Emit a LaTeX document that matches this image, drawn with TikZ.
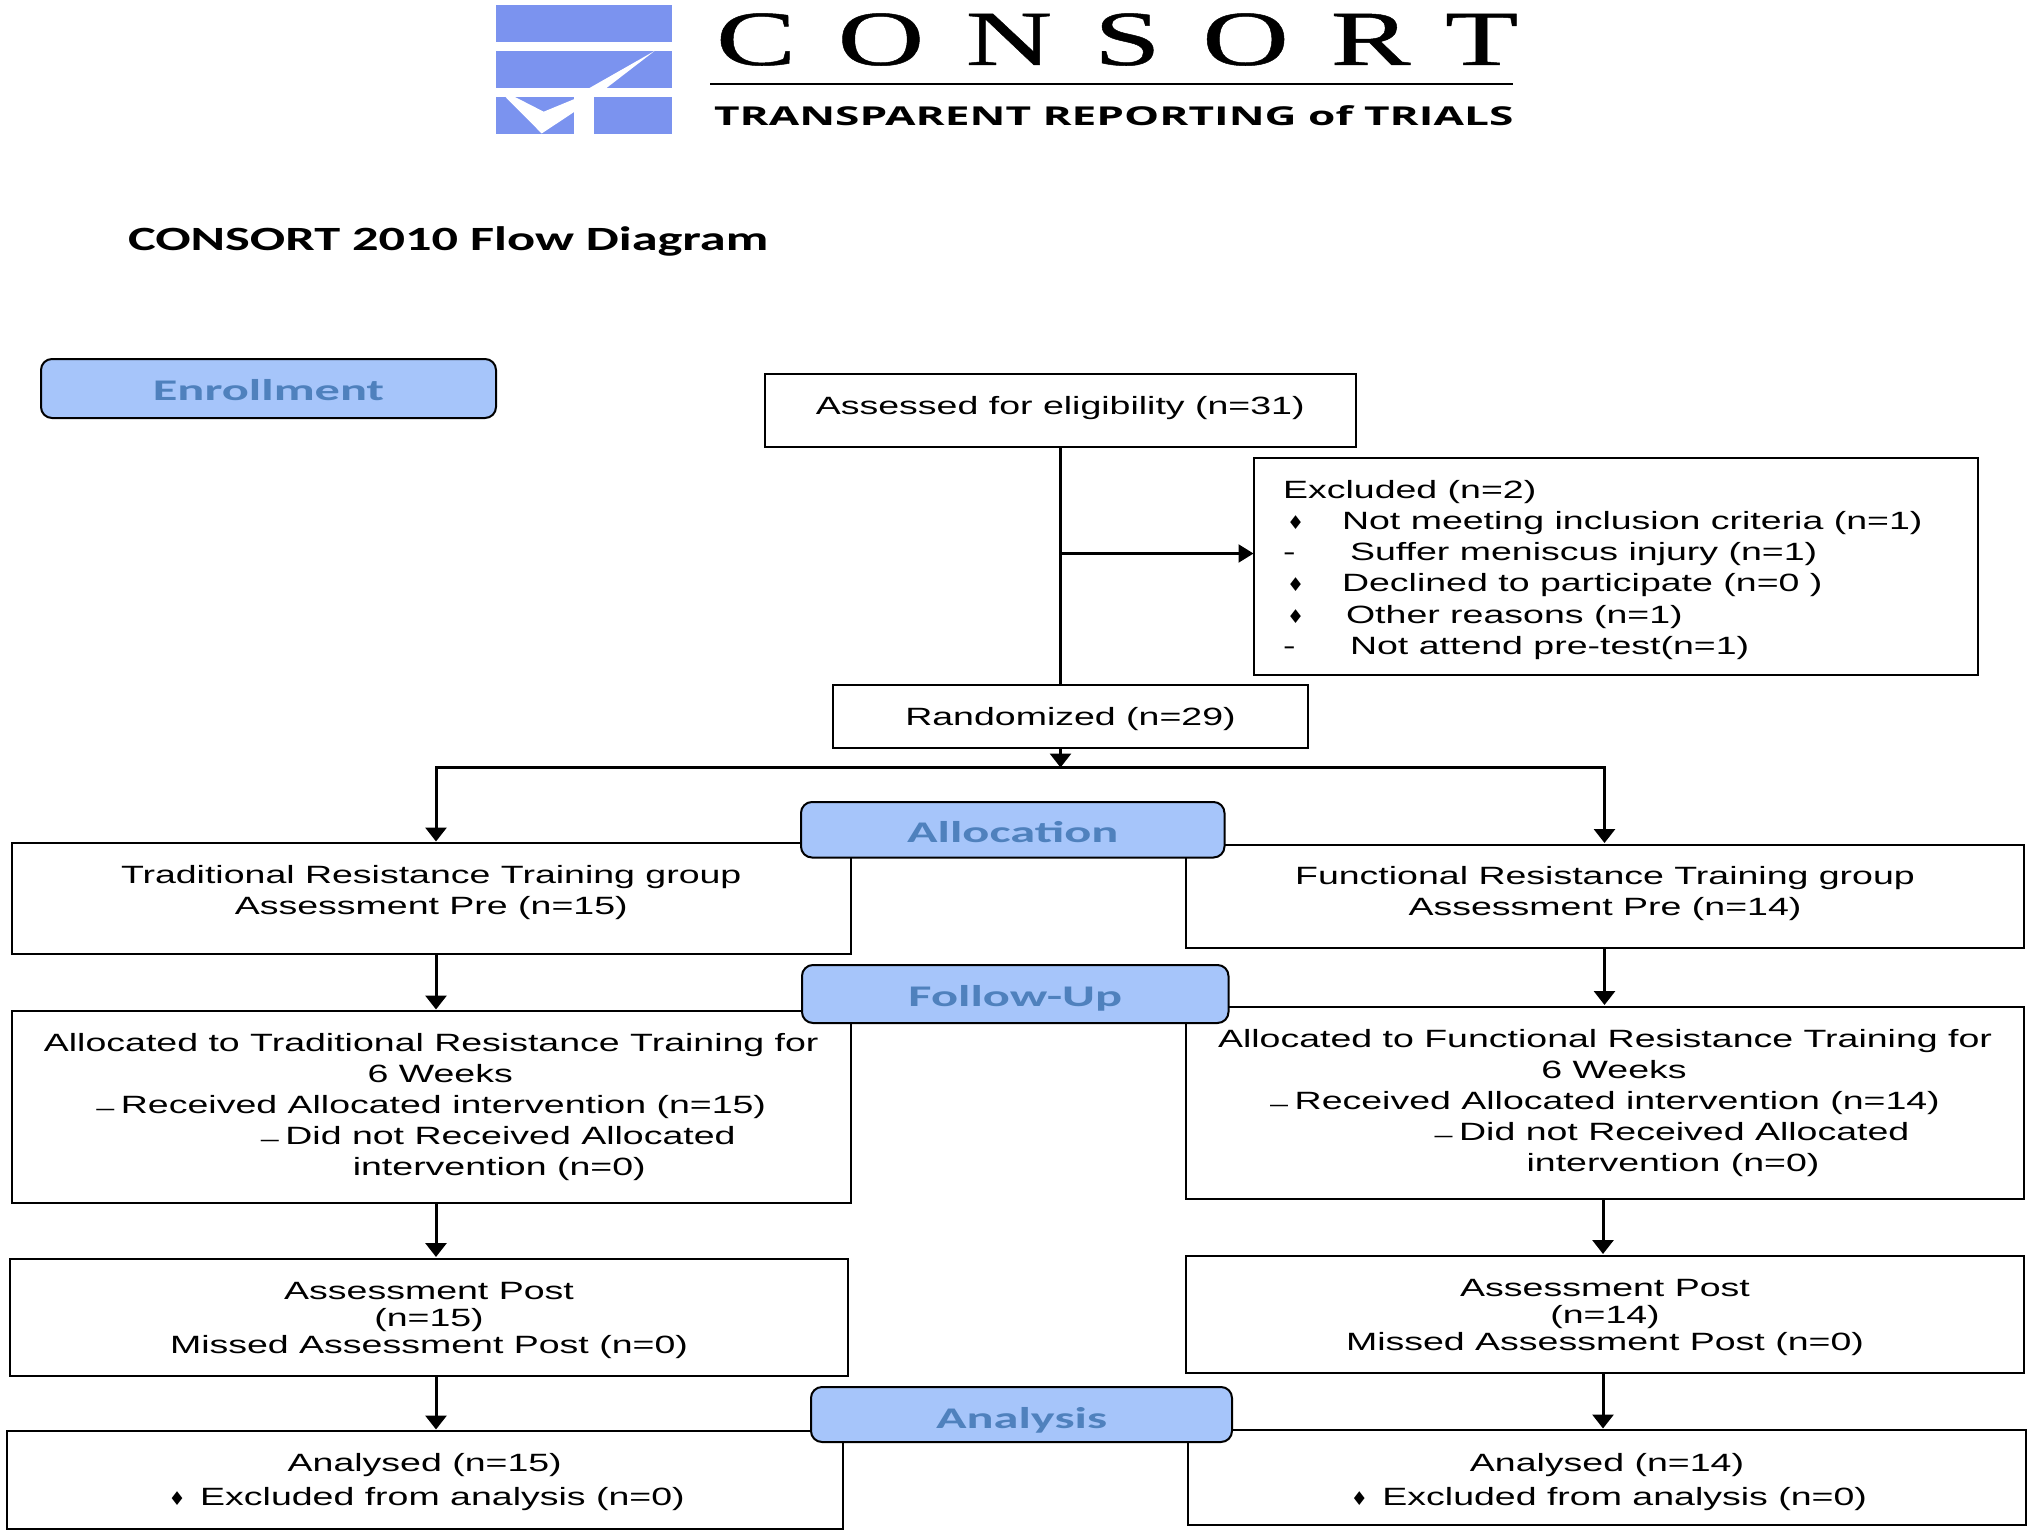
\documentclass[tikz,border=0pt]{standalone}
\usepackage{fontspec}
\usetikzlibrary{arrows.meta}
\setmainfont{Liberation Sans}
\newfontfamily\bodyf{Liberation Sans}[FakeStretch=1.5]
\newfontfamily\dingf{DejaVu Sans}[FakeStretch=1.0]
\newfontfamily\pillf{Carlito}[FakeStretch=1.68]
\newfontfamily\titlef{Carlito}[FakeStretch=1.54]
\newfontfamily\logof{Liberation Serif}[FakeStretch=1.54,LetterSpace=53.2,FakeBold=0.6]
\newfontfamily\subf{Open Sans}[FakeStretch=1.7]
\definecolor{pillfill}{HTML}{A6C5FA}
\definecolor{pilltext}{HTML}{4F81BD}
\definecolor{logoblue}{HTML}{7B93EF}
\tikzset{
  flowbox/.style={draw=black,line width=2pt,fill=white,rectangle,inner sep=0pt,outer sep=0pt,anchor=north west},
  pill/.style={draw=black,line width=2pt,fill=pillfill,rectangle,rounded corners=11pt,inner sep=0pt,outer sep=0pt,anchor=north west,text=pilltext,font=\pillf\fontsize{30}{34}\selectfont\bfseries},
  flow/.style={draw=black,line width=3pt},
  flowarr/.style={draw=black,line width=3pt,-{Triangle[length=14pt,width=21pt]},shorten >=1.5pt},
  thinarr/.style={draw=black,line width=2.2pt,-{Triangle[length=15pt,width=18pt]}},
  plain/.style={inner sep=0pt,outer sep=0pt}
}
% #1 name, #2-#5 x1 y1 x2 y2, #6 text
\newcommand{\flownode}[6]{\node[flowbox,minimum width={(#4-#2)*1pt},minimum height={(#5-#3)*1pt}] (#1) at (#2,#3) {#6};}
% #6 text, #7 drop of the baseline below the centre
\newcommand{\pillnode}[7]{\node[pill,minimum width={(#4-#2)*1pt},minimum height={(#5-#3)*1pt}] (#1) at (#2,#3) {\raisebox{-#7}[0pt][0pt]{#6}};}
% #1 dy, #2 line pitch, #3 lines
\newcommand{\lines}[3]{\raisebox{#1}[0pt][0pt]{\bodyf\fontsize{25}{#2}\selectfont\begin{tabular}{@{}c@{}}#3\end{tabular}}}
\newcommand{\dia}{{\dingf\fontsize{19}{19}\selectfont\symbol{"2666}}}
\newcommand{\shortdash}{\raisebox{-2pt}{\fontsize{21.6}{22}\selectfont –}\hspace{6.5pt}}
\begin{document}
\begin{tikzpicture}[x=1pt,y=-1pt]
\useasboundingbox (0,0) rectangle (2032,1536);
% logo
\fill[logoblue] (496,5) rectangle (672,42);
\fill[logoblue] (496,51) rectangle (672,88);
\fill[logoblue] (496,97) rectangle (574,134);
\fill[logoblue] (593.5,97) rectangle (672,134);
\fill[white] (589.5,88) -- (654.5,51) -- (606.5,88) -- cycle;
\fill[white] (505.5,97) -- (541.7,133.5) -- (574.5,111.7) -- (574.5,99) -- (543.7,111.7) -- (515,97) -- cycle;
\node[plain,anchor=base west,text=black] (logotxt) at (716,65) {\logof\fontsize{78}{78}\selectfont CONSORT};
\coordinate (logoa) at (710,84);
\coordinate (logob) at (1513,84);
\draw[line width=2.2pt] (logoa) -- (logob);
\node[plain,anchor=base west] (logosub) at (714,126) {\subf\fontsize{26}{28}\selectfont\bfseries TRANSPARENT REPORTING of TRIALS};
\node[plain,anchor=base west] (title) at (128,250) {\titlef\fontsize{34}{36}\selectfont\bfseries CONSORT 2010 Flow Diagram};
% boxes
\pillnode{enroll}{41}{359}{496}{418}{Enrollment}{12pt}
\flownode{assess}{765}{374}{1355.5}{447}{\lines{-4.5pt}{31pt}{Assessed for eligibility (n=31)}}
\flownode{excl}{1253.5}{457.5}{1977.6}{675}{\makebox[724pt][l]{\hspace*{29.5pt}\raisebox{-10pt}[0pt][0pt]{\bodyf\fontsize{25}{31.2}\selectfont\begin{tabular}{@{}l@{}}%
Excluded (n=2)\\
\makebox[59pt][l]{\hspace*{4pt}\dia}Not meeting inclusion criteria (n=1)\\
\makebox[67pt][l]{-}Suffer meniscus injury (n=1)\\
\makebox[59pt][l]{\hspace*{4pt}\dia}Declined to participate (n=0 )\\
\makebox[63pt][l]{\hspace*{4pt}\dia}Other reasons (n=1)\\
\makebox[67pt][l]{-}Not attend pre-test(n=1)
\end{tabular}}}}
\flownode{rand}{833}{684.5}{1308}{748}{\lines{-9pt}{31pt}{Randomized (n=29)}}
\flownode{lpre}{11.5}{843}{851}{954}{\lines{-1pt}{31pt}{Traditional Resistance Training group\\Assessment Pre (n=15)}}
\flownode{rpre}{1186}{844.5}{2024}{948}{\lines{-4pt}{31pt}{Functional Resistance Training group\\Assessment Pre (n=14)}}
\flownode{lalloc}{11.5}{1011}{851}{1203}{\lines{-7pt}{31pt}{Allocated to Traditional Resistance Training for\\\hspace*{18pt}6 Weeks\\\shortdash Received Allocated intervention (n=15)\\\hspace*{134pt}\shortdash Did not Received Allocated\\\hspace*{136pt}intervention (n=0)}}
\flownode{ralloc}{1186}{1006.5}{2024}{1198.5}{\lines{-7pt}{31pt}{Allocated to Functional Resistance Training for\\\hspace*{18pt}6 Weeks\\\shortdash Received Allocated intervention (n=14)\\\hspace*{134pt}\shortdash Did not Received Allocated\\\hspace*{136pt}intervention (n=0)}}
\flownode{lpost}{10}{1258.5}{848}{1376}{\lines{-10pt}{27pt}{Assessment Post\\(n=15)\\Missed Assessment Post (n=0)}}
\flownode{rpost}{1186}{1255.5}{2024}{1373}{\lines{-10pt}{27pt}{Assessment Post\\(n=14)\\Missed Assessment Post (n=0)}}
\flownode{lana}{6.5}{1431}{843}{1529}{\lines{-8pt}{33.6pt}{Analysed (n=15)\\\hspace*{4pt}\dia\ \hspace{4pt}Excluded from analysis (n=0)}}
\flownode{rana}{1188}{1430}{2026}{1524.5}{\lines{-10.5pt}{33.6pt}{Analysed (n=14)\\\hspace*{4pt}\dia\ \hspace{4pt}Excluded from analysis (n=0)}}
% connectors
\coordinate (cx) at (1060.5,553.5);
\coordinate (sp) at (1060.5,767.5);
\coordinate (lx) at (436,767.5);
\coordinate (rx) at (1604.5,767.5);
\coordinate (rx2) at (1603,0);
\draw[flow] (assess.south -| cx) -- (rand.north -| cx);
\draw[thinarr] (cx) -- (excl.west |- cx);
\draw[flowarr,shorten >=0pt] (rand.south -| cx) -- (sp);
\draw[flow,line cap=rect] (lx) -- (rx);
\draw[flowarr] (lx) -- (lpre.north -| lx);
\draw[flowarr] (rx) -- (rpre.north -| rx);
\draw[flowarr] (lpre.south -| lx) -- (lalloc.north -| lx);
\draw[flowarr] (lalloc.south -| lx) -- (lpost.north -| lx);
\draw[flowarr] (lpost.south -| lx) -- (lana.north -| lx);
\draw[flowarr] (rpre.south -| rx) -- (ralloc.north -| rx);
\draw[flowarr] (ralloc.south -| rx2) -- (rpost.north -| rx2);
\draw[flowarr] (rpost.south -| rx2) -- (rana.north -| rx2);
% stage pills on top
\pillnode{alloc}{801}{802}{1224.5}{857.5}{Allocation}{13pt}
\pillnode{follow}{802}{965}{1228.5}{1023}{Follow-Up}{12.3pt}
\pillnode{analysis}{811}{1387}{1232}{1442}{Analysis}{14pt}
\end{tikzpicture}
\end{document}
